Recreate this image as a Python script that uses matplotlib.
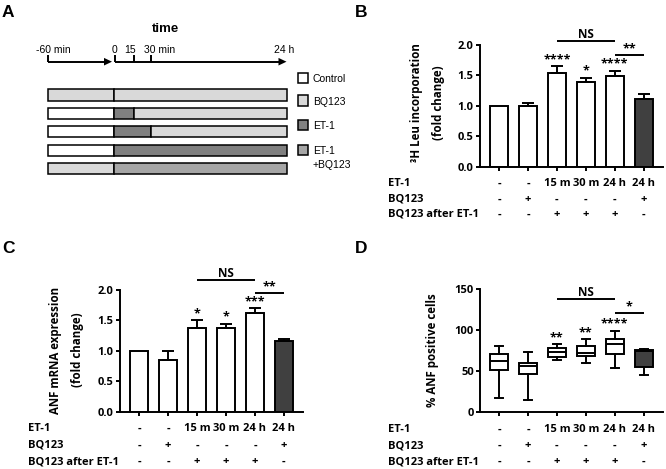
import numpy as np
import matplotlib
matplotlib.use("Agg")
import matplotlib.pyplot as plt
from matplotlib.patches import Rectangle, Polygon
from matplotlib.transforms import blended_transform_factory

# ---------------- data ----------------
ROW_LABELS = ["ET-1", "BQ123", "BQ123 after ET-1"]
ROW_ET1 = ["-", "-", "15 m", "30 m", "24 h", "24 h"]
ROW_BQ = ["-", "+", "-", "-", "-", "+"]
ROW_AFTER = ["-", "-", "+", "+", "+", "-"]

# Panel B: 3H Leu incorporation (fold change), mean and upper error
B_MEAN = [1.00, 0.99, 1.54, 1.395, 1.49, 1.11]
B_ERR = [0.00, 0.06, 0.11, 0.065, 0.09, 0.08]
B_STARS = ["", "", "****", "*", "****", ""]
B_BRACKETS = [(2, 4, 2.07, "NS"), (4, 5, 1.835, "**")]

# Panel C: ANF mRNA expression (fold change)
C_MEAN = [1.00, 0.85, 1.38, 1.38, 1.62, 1.16]
C_ERR = [0.00, 0.14, 0.125, 0.065, 0.08, 0.03]
C_STARS = ["", "", "*", "*", "***", ""]
C_BRACKETS = [(2, 4, 2.17, "NS"), (4, 5, 1.95, "**")]

# Panel D: % ANF positive cells (box plots, min-max whiskers)
D_WHISLO = [17, 14, 63, 59, 53, 45]
D_Q1 = [51, 45.5, 67, 68, 70, 55]
D_MED = [62, 55.5, 73, 71, 82.5, 74]
D_Q3 = [70, 60, 78, 80.5, 89, 75]
D_WHISHI = [80, 72.5, 82.5, 88.5, 99, 76]
D_STARS = ["", "", "**", "**", "****", ""]
D_BRACKETS = [(2, 4, 138, "NS"), (4, 5, 120, "*")]

# Panel A: treatment schedule
TIME_TICKS = [-60, 0, 15, 30, 1440]  # minutes
TIME_TICK_LABELS = ["-60 min", "0", "15", "30 min", "24 h"]
LEGEND_LABELS = ["Control", "BQ123", "ET-1", "ET-1\n+BQ123"]
SCHEME_ROWS = [
    [(-60, 0, "BQ123"), (0, 1440, "BQ123")],
    [(-60, 0, "Control"), (0, 15, "ET-1"), (15, 1440, "BQ123")],
    [(-60, 0, "Control"), (0, 30, "ET-1"), (30, 1440, "BQ123")],
    [(-60, 0, "Control"), (0, 1440, "ET-1")],
    [(-60, 0, "BQ123"), (0, 1440, "ET-1\n+BQ123")],
]

# ---------------- style ----------------
W, H = 666, 469
FILL = {"Control": "#ffffff", "BQ123": "#d9d9d9", "ET-1": "#808080", "ET-1\n+BQ123": "#a6a6a6"}
DARK = "#404040"
LW = 1.4
plt.rcParams["font.family"] = ["Open Sans", "DejaVu Sans"]
plt.rcParams["font.weight"] = "bold"
plt.rcParams["axes.linewidth"] = LW
FS_TICK = 8
FS_LAB = 8
FS_YLAB = 8.3
FS_STAR = 9
FS_NS = 8.5
ARIAL = ["Liberation Sans", "DejaVu Sans"]

fig = plt.figure(figsize=(W / 100, H / 100), dpi=100)


def fy(py):
    return 1 - py / H


def add_axes_px(left, top, right, bottom):
    return fig.add_axes([left / W, 1 - bottom / H, (right - left) / W, (bottom - top) / H])


# overlay in pixel coordinates for panel A and labels
ov = fig.add_axes([0, 0, 1, 1])
ov.set_xlim(0, W)
ov.set_ylim(H, 0)
ov.axis("off")

# panel letters
for letter, (x, y) in zip("ABCD", [(2, 17.3), (355, 16.7), (2, 253.3), (355, 253.3)]):
    ov.text(x, y, letter, fontsize=12.5, fontweight="bold", family=ARIAL, ha="left", va="baseline")

# ---------- Panel A ----------
TICK_X = [48.3, 113.5, 133.5, 151, 286.5]
LINE_Y = 61.7


def tx(t):
    return np.interp(t, TIME_TICKS, TICK_X)


ov.text(165.8, 31.7, "time", fontsize=9.5, fontweight="bold", family=ARIAL, ha="center", va="baseline")
# arrows
for x0, x1 in [(TICK_X[0], TICK_X[1] - 1.5), (TICK_X[1] + 1.5, TICK_X[4])]:
    ov.plot([x0, x1 - 6], [LINE_Y, LINE_Y], color="black", lw=LW, solid_capstyle="butt")
    ov.add_patch(Polygon([[x1 - 8, LINE_Y - 3.8], [x1, LINE_Y], [x1 - 8, LINE_Y + 3.8]],
                         closed=True, color="black", lw=0))
for i, t in enumerate(TIME_TICKS[:4]):
    x = tx(t) + (1.5 if t == 0 else 0)
    ov.plot([x, x], [LINE_Y - 7, LINE_Y + 0.7], color="black", lw=LW, solid_capstyle="butt")
lab_pos = [(53.3, "center"), (114.8, "center"), (130.5, "center"), (144, "left"), (283.7, "center")]
for (x, ha), s in zip(lab_pos, TIME_TICK_LABELS):
    ov.text(x, 53.3, s, fontsize=7.5, fontweight="normal", family=ARIAL, ha=ha, va="baseline")

ROW_Y0, ROW_DY, ROW_H = 95.0, 18.4, 11.3
for r, segs in enumerate(SCHEME_ROWS):
    yc = ROW_Y0 + r * ROW_DY
    for t0, t1, kind in segs:
        ov.add_patch(Rectangle((tx(t0), yc - ROW_H / 2), tx(t1) - tx(t0), ROW_H,
                               facecolor=FILL[kind], edgecolor="black", lw=1.1))

LEG_Y = [78, 100.8, 125, 150]
for yc, lab in zip(LEG_Y, LEGEND_LABELS):
    ov.add_patch(Rectangle((297.7, yc - 5.3), 10.6, 10.6, facecolor=FILL[lab], edgecolor="black", lw=1.1))
    for k, line in enumerate(lab.split("\n")):
        ov.text(312.7, yc + 3.8 + 14 * k, line, fontsize=7.5, fontweight="normal", family=ARIAL,
                ha="left", va="baseline")

# ---------- helpers ----------
XPAD = 0.66
BW = 0.63


def style_axes(ax, ylim, yticks, fmt):
    n = 6
    ax.set_xlim(-XPAD, n - 1 + XPAD + 0.01)
    ax.set_ylim(*ylim)
    ax.spines["top"].set_visible(False)
    ax.spines["right"].set_visible(False)
    ax.set_xticks(np.arange(n))
    ax.set_xticklabels([])
    ax.set_yticks(yticks)
    ax.set_yticklabels([fmt.format(v) for v in yticks], fontsize=FS_TICK, fontweight="bold")
    ax.tick_params(axis="both", direction="out", length=3, width=LW, pad=1.5)
    ax.patch.set_alpha(0)


def table(ax, bottom_px, label_x, offsets):
    tr = blended_transform_factory(ax.transData, fig.transFigure)
    for lab, vals, off in zip(ROW_LABELS, [ROW_ET1, ROW_BQ, ROW_AFTER], offsets):
        y = fy(bottom_px + off)
        fig.text(label_x / W, y, lab, fontsize=FS_LAB, fontweight="bold", ha="left", va="center")
        for i, v in enumerate(vals):
            fig.text(i, y, v, transform=tr, fontsize=FS_LAB, fontweight="bold", ha="center", va="center")


def brackets(ax, items, pad):
    for a, b, y, lab in items:
        ax.plot([a, b], [y, y], color="black", lw=LW, clip_on=False, solid_capstyle="butt")
        ax.text((a + b) / 2, y + pad, lab, fontsize=FS_NS if lab == "NS" else FS_STAR,
                fontweight="bold", ha="center", va="bottom", clip_on=False)


def bar_panel(ax, means, errs, stars, brs):
    x = np.arange(len(means))
    means = np.array(means)
    errs = np.array(errs)
    colors = ["white"] * (len(means) - 1) + [DARK]
    ax.bar(x, means, width=BW, color=colors, edgecolor="black", linewidth=LW, zorder=2)
    m = errs > 0
    ax.errorbar(x[m], means[m], yerr=[np.zeros(m.sum()), errs[m]], fmt="none", ecolor="black",
                elinewidth=LW, capsize=4.5, capthick=LW, zorder=3)
    for i, s in enumerate(stars):
        if s:
            ax.text(i, means[i] + errs[i], s, fontsize=FS_STAR, fontweight="bold",
                    ha="center", va="bottom", clip_on=False)
    brackets(ax, brs, 0.0)


def ylabel(x_px, y_px, text):
    fig.text(x_px / W, fy(y_px), text, rotation=90, fontsize=FS_YLAB, fontweight="bold",
             ha="center", va="center", multialignment="center", linespacing=1.9)


# ---------- Panel B ----------
axB = add_axes_px(480, 45, 663, 166.7)
style_axes(axB, (0, 2.0), [0, 0.5, 1.0, 1.5, 2.0], "{:.1f}")
bar_panel(axB, B_MEAN, B_ERR, B_STARS, B_BRACKETS)
table(axB, 166.7, 388, [16.6, 32.6, 47.6])
ylabel(428, 103, "³H Leu incorporation\n(fold change)")

# ---------- Panel C ----------
axC = add_axes_px(120, 290, 303.3, 411.5)
style_axes(axC, (0, 2.0), [0, 0.5, 1.0, 1.5, 2.0], "{:.1f}")
bar_panel(axC, C_MEAN, C_ERR, C_STARS, C_BRACKETS)
table(axC, 411.5, 28, [16.8, 33.5, 50.2])
ylabel(66.5, 350, "ANF mRNA expression\n(fold change)")

# ---------- Panel D ----------
axD = add_axes_px(480, 288.7, 663, 411.7)
style_axes(axD, (0, 150), [0, 50, 100, 150], "{:.0f}")
stats = [dict(whislo=a, q1=b, med=c, q3=d, whishi=e, fliers=[])
         for a, b, c, d, e in zip(D_WHISLO, D_Q1, D_MED, D_Q3, D_WHISHI)]
bp = axD.bxp(stats, positions=np.arange(6), widths=BW, capwidths=0.28, patch_artist=True,
             showfliers=False, manage_ticks=False,
             boxprops=dict(linewidth=LW, edgecolor="black"),
             whiskerprops=dict(linewidth=LW, color="black"),
             capprops=dict(linewidth=LW, color="black"),
             medianprops=dict(linewidth=LW, color="black"))
for i, b in enumerate(bp["boxes"]):
    b.set_facecolor(DARK if i == 5 else "white")
for i, s in enumerate(D_STARS):
    if s:
        axD.text(i, D_WHISHI[i], s, fontsize=FS_STAR, fontweight="bold",
                 ha="center", va="bottom", clip_on=False)
brackets(axD, D_BRACKETS, 0.0)
table(axD, 411.7, 388, [17.6, 34, 50])
ylabel(433, 350, "% ANF positive cells")

fig.savefig("out.png", dpi=100)
